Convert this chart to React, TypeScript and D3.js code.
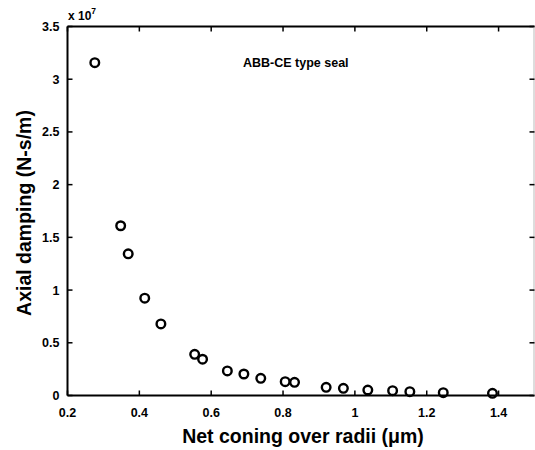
import React, { useEffect, useRef } from 'react';
import * as d3 from 'd3';

// net coning over radii (um) and axial damping (N-s/m)
const coning = [0.276, 0.348, 0.369, 0.415, 0.46, 0.554, 0.576, 0.645, 0.691, 0.738, 0.806, 0.832, 0.92, 0.968, 1.036, 1.105, 1.153, 1.246, 1.383];
const damping = [3.157e7, 1.61e7, 1.344e7, 0.923e7, 0.679e7, 0.391e7, 0.344e7, 0.233e7, 0.204e7, 0.163e7, 0.131e7, 0.125e7, 0.078e7, 0.068e7, 0.052e7, 0.046e7, 0.036e7, 0.027e7, 0.021e7];

const xTicks = [0.2, 0.4, 0.6, 0.8, 1, 1.2, 1.4];
const xTickLabels = ['0.2', '0.4', '0.6', '0.8', '1', '1.2', '1.4'];
const yTicks = [0, 0.5e7, 1e7, 1.5e7, 2e7, 2.5e7, 3e7, 3.5e7];
const yTickLabels = ['0', '0.5', '1', '1.5', '2', '2.5', '3', '3.5'];

const App = () => {
  const svgRef = useRef(null);
  const svgWidth = 535;
  const svgHeight = 450;
  const margin = { top: 26.5, right: 0.5, bottom: 54.5, left: 67.5 };
  const width = svgWidth - margin.left - margin.right;
  const height = svgHeight - margin.top - margin.bottom;
  const font = 'Arial, "Liberation Sans", sans-serif';

  useEffect(() => {
    const svg = d3.select(svgRef.current);
    svg.selectAll('*').remove();

    const x = d3.scaleLinear().domain([0.2, 1.5]).range([0, width]);
    const y = d3.scaleLinear().domain([0, 3.5e7]).range([height, 0]);

    const g = svg.append('g')
      .attr('transform', `translate(${margin.left},${margin.top})`);

    // frame
    g.append('line').attr('x1', 0).attr('x2', width).attr('y1', height).attr('y2', height)
      .attr('stroke', '#000').attr('stroke-width', 2);
    g.append('line').attr('x1', 0).attr('x2', width).attr('y1', 0).attr('y2', 0)
      .attr('stroke', '#000').attr('stroke-width', 2);
    g.append('line').attr('x1', 0).attr('x2', 0).attr('y1', 0).attr('y2', height)
      .attr('stroke', '#000').attr('stroke-width', 2);
    g.append('line').attr('x1', width - 0.5).attr('x2', width - 0.5).attr('y1', 0).attr('y2', height)
      .attr('stroke', '#bbb').attr('stroke-width', 1);

    // inward ticks on all four sides
    xTicks.forEach(t => {
      g.append('line').attr('x1', x(t)).attr('x2', x(t)).attr('y1', height).attr('y2', height - 5)
        .attr('stroke', '#000').attr('stroke-width', 1.5);
      g.append('line').attr('x1', x(t)).attr('x2', x(t)).attr('y1', 0).attr('y2', 5)
        .attr('stroke', '#000').attr('stroke-width', 1.5);
    });
    yTicks.forEach(t => {
      g.append('line').attr('x1', 0).attr('x2', 5).attr('y1', y(t)).attr('y2', y(t))
        .attr('stroke', '#000').attr('stroke-width', 1.5);
      g.append('line').attr('x1', width - 5).attr('x2', width).attr('y1', y(t)).attr('y2', y(t))
        .attr('stroke', '#000').attr('stroke-width', 1.5);
    });

    g.selectAll('.xlab')
      .data(xTicks)
      .enter().append('text')
      .attr('x', d => x(d))
      .attr('y', height + 21)
      .attr('text-anchor', 'middle')
      .attr('font-family', font)
      .attr('font-weight', 'bold')
      .attr('font-size', 12.5)
      .text((d, i) => xTickLabels[i]);

    g.selectAll('.ylab')
      .data(yTicks)
      .enter().append('text')
      .attr('x', -8)
      .attr('y', d => y(d) + 4.5)
      .attr('text-anchor', 'end')
      .attr('font-family', font)
      .attr('font-weight', 'bold')
      .attr('font-size', 12.5)
      .text((d, i) => yTickLabels[i]);

    // exponent
    const ex = svg.append('text')
      .attr('x', 68)
      .attr('y', 20)
      .attr('font-family', font)
      .attr('font-weight', 'bold')
      .attr('font-size', 12);
    ex.append('tspan').text('x 10');
    ex.append('tspan').attr('dy', -6).attr('font-size', 8.5).text('7');

    // data points
    g.selectAll('circle')
      .data(coning.map((c, i) => ({ c, d: damping[i] })))
      .enter().append('circle')
      .attr('cx', d => x(d.c))
      .attr('cy', d => y(d.d))
      .attr('r', 4.3)
      .attr('fill', 'none')
      .attr('stroke', '#000')
      .attr('stroke-width', 2.4);

    svg.append('text')
      .attr('x', 243)
      .attr('y', 67)
      .attr('font-family', font)
      .attr('font-weight', 'bold')
      .attr('font-size', 12.5)
      .text('ABB-CE type seal');

    svg.append('text')
      .attr('x', 303)
      .attr('y', 443)
      .attr('text-anchor', 'middle')
      .attr('font-family', font)
      .attr('font-weight', 'bold')
      .attr('font-size', 19.5)
      .text('Net coning over radii (\u03bcm)');

    svg.append('text')
      .attr('transform', 'translate(31,213) rotate(-90)')
      .attr('text-anchor', 'middle')
      .attr('font-family', font)
      .attr('font-weight', 'bold')
      .attr('font-size', 19.5)
      .text('Axial damping (N-s/m)');
  }, [height, width, margin.left, margin.top]);

  return <svg ref={svgRef} width={svgWidth} height={svgHeight}
    style={{ position: 'absolute', left: 0, top: 0, background: '#fff' }}></svg>;
};

export default App;
